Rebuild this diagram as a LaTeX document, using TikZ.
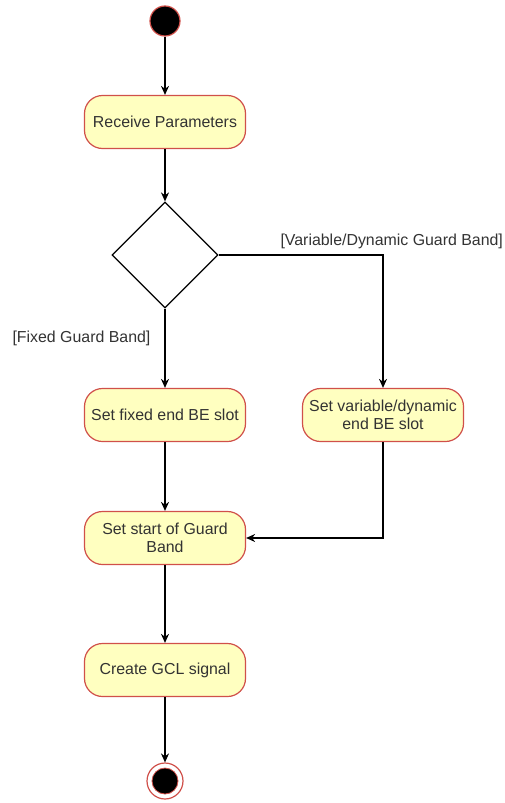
\documentclass[tikz,border=0pt]{standalone}
\usepackage{fontspec}
\setmainfont{Liberation Sans}
\usetikzlibrary{shapes.geometric,arrows.meta}
\definecolor{boxfill}{HTML}{FFFFC0}
\definecolor{boxline}{HTML}{D0504A}
\definecolor{txt}{HTML}{333333}
\begin{document}
\begin{tikzpicture}[x=1pt,y=-1pt,
  every node/.style={font=\fontsize{15.9}{18.5}\selectfont, text=txt},
  actbox/.style={draw=boxline, line width=1.2pt, fill=boxfill, rounded corners=18pt,
    minimum width=161pt, minimum height=53pt, align=center, inner sep=2pt},
  decision/.style={draw=black, line width=1.2pt, fill=white, diamond, aspect=1,
    minimum width=106pt, minimum height=106pt, inner sep=0pt},
  flow/.style={draw=black, line width=1.2pt, -{Stealth[length=9pt,width=8pt]}},
  guard/.style={font=\fontsize{15.9}{18.5}\selectfont}
]
\useasboundingbox (0,0) rectangle (504,803);
\node[circle, fill=black, draw=boxline, line width=1.2pt, minimum size=30pt, inner sep=0pt] (start) at (165,21) {};
\node[actbox] (rp) at (165,122) {Receive Parameters};
\node[decision] (dec) at (165,255) {};
\node[actbox] (fixed) at (165,415) {Set fixed end BE slot};
\node[actbox] (var) at (383,415) {Set variable/dynamic\\end BE slot};
\node[actbox] (sgb) at (165,538) {Set start of Guard\\Band};
\node[actbox] (gcl) at (165,670) {Create GCL signal};
\node[circle, fill=white, draw=boxline, line width=1.2pt, minimum size=36pt, inner sep=0pt] (endo) at (165,781) {};
\node[circle, fill=black, draw=boxline, line width=0.8pt, minimum size=26pt, inner sep=0pt] (endi) at (165,781) {};
\node[guard, anchor=west] (lvar) at (277,241) {[Variable/Dynamic Guard Band]};
\node[guard, anchor=west] (lfix) at (9,338) {[Fixed Guard Band]};
\draw[flow] (start) -- (rp);
\draw[flow] (rp) -- (dec);
\draw[flow] (dec) -- (fixed);
\draw[flow] (dec.east) -| (var.north);
\draw[flow] (fixed) -- (sgb);
\draw[flow] (var.south) |- (sgb.east);
\draw[flow] (sgb) -- (gcl);
\draw[flow] (gcl) -- (endo);
\end{tikzpicture}
\end{document}
